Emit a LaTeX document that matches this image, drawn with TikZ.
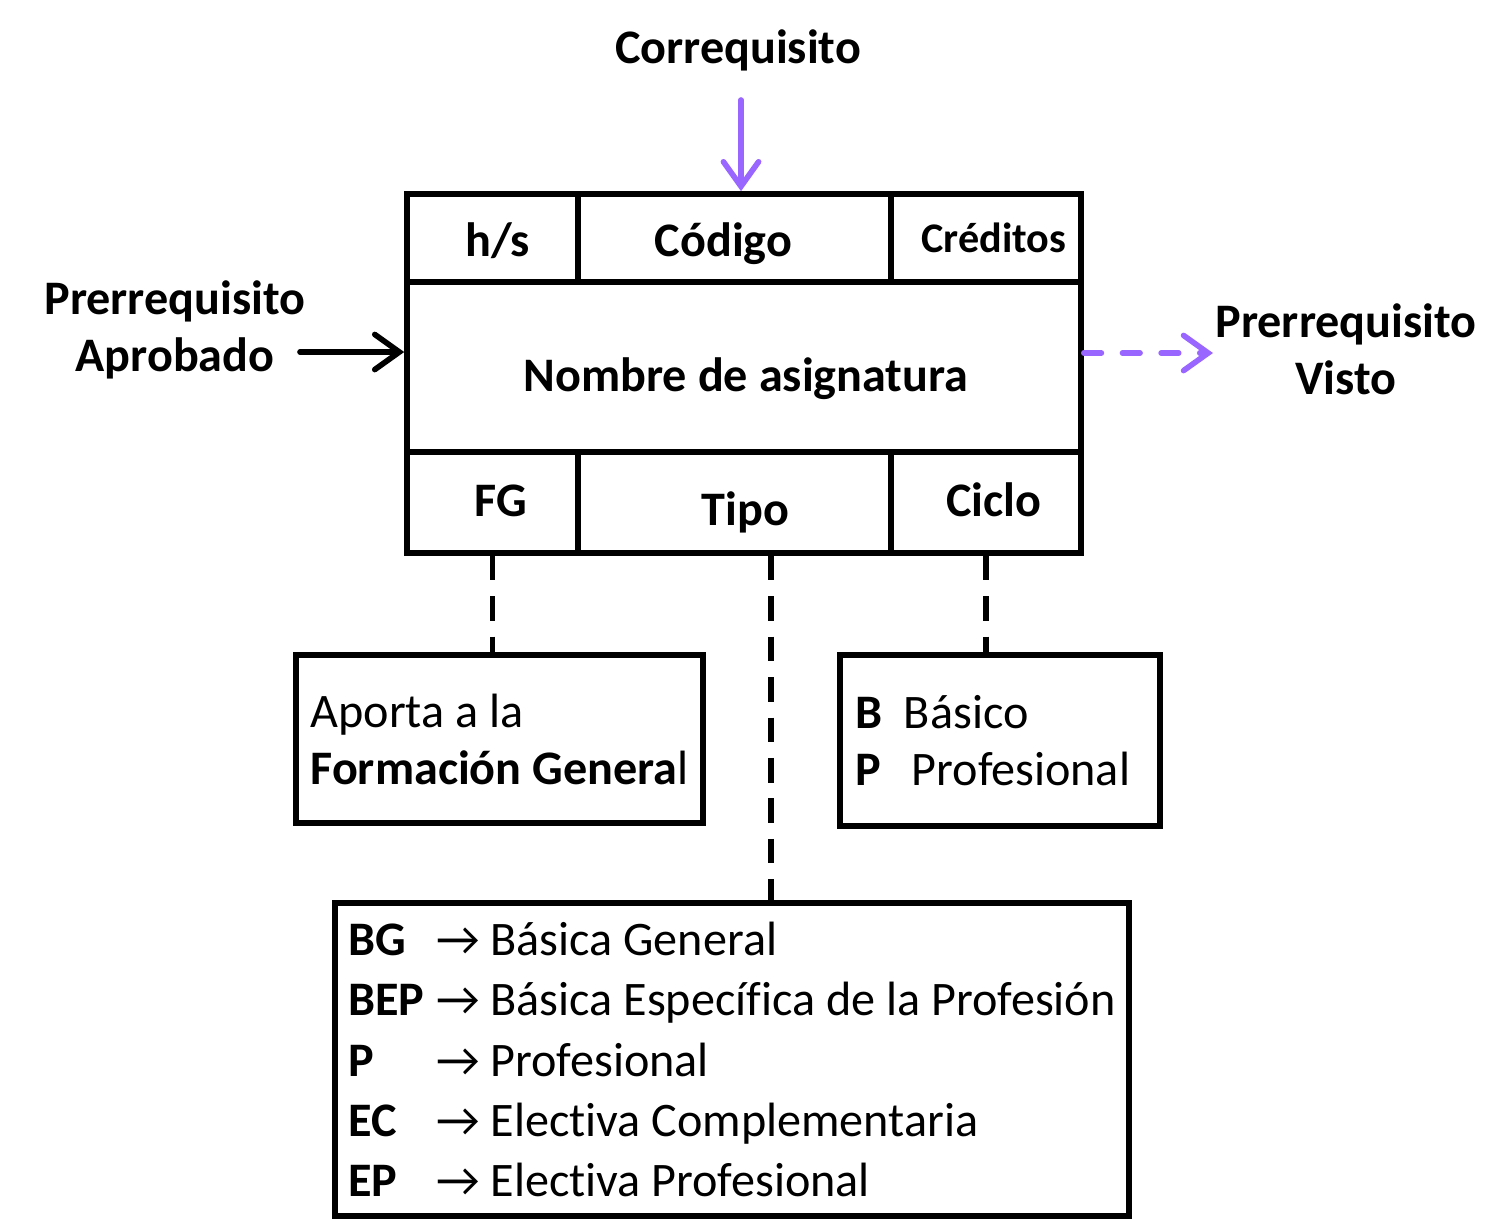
\documentclass[tikz,border=0pt]{standalone}
\usepackage{fontspec}
\setmainfont{Carlito}[RawFeature={-liga,-clig,-calt,-dlig}]
\usetikzlibrary{arrows.meta}
\definecolor{lila}{RGB}{153,102,255}
\newcommand\tipofila[2]{\makebox[25pt][l]{\textbf{#1}}→ #2}

\begin{document}
\begin{tikzpicture}[x=0.1mm,y=-0.1mm,
   celda/.style={draw,line width=1.6pt,inner sep=0pt},
   texto/.style={font=\bfseries\fontsize{13.7}{16}\selectfont},
   caja/.style={draw,line width=1.6pt,inner sep=0pt,align=left,font=\fontsize{13.7}{16.2}\selectfont},
   rotulo/.style={align=center,font=\bfseries\fontsize{13.7}{16.2}\selectfont},
   guia/.style={line width=1.6pt,dash pattern=on 7pt off 4.5pt},
   flecha/.style={line width=1.6pt,line cap=round,-{Straight Barb[length=7pt,width=10pt,line cap=round]}}
]
\useasboundingbox (0,0) rectangle (1494,1222);
% ficha de la asignatura
\node[celda,minimum width=17.1mm,minimum height=8.8mm] (hs) at (492.5,238) {};
\node[celda,minimum width=31.3mm,minimum height=8.8mm] (cod) at (734.5,238) {};
\node[celda,minimum width=19mm,minimum height=8.8mm] (cred) at (986,238) {};
\node[celda,minimum width=67.4mm,minimum height=17mm] (nom) at (744,367) {};
\node[celda,minimum width=17.1mm,minimum height=10.1mm] (fg) at (492.5,502.5) {};
\node[celda,minimum width=31.3mm,minimum height=10.1mm] (tipo) at (734.5,502.5) {};
\node[celda,minimum width=19mm,minimum height=10.1mm] (ciclo) at (986,502.5) {};

\node[texto] (hsT) at (497.5,241) {h/s};
\node[texto] (codT) at (723.5,244) {Código};
\node[texto,font=\bfseries\fontsize{12}{14}\selectfont] (credT) at (994,238) {Créditos};
\node[texto] (nomT) at (746,379) {Nombre de asignatura};
\node[texto] (fgT) at (500.5,500.5) {FG};
\node[texto] (tipoT) at (745.5,512.5) {Tipo};
\node[texto] (cicloT) at (994,499.5) {Ciclo};

% cajas de leyenda
\node[caja,minimum width=40.7mm,minimum height=16.8mm] (fgcaja) at (499.5,739)
  {Aporta a la\\\textbf{Formación Genera}l};
\node[caja,minimum width=32mm,minimum height=17.1mm] (ciclocaja) at (1000,740.5)
  {\textbf{B}\hspace{6pt}Básico\\\textbf{P}\hspace{8.6pt}Profesional\kern4pt};
\node[caja,minimum width=79.4mm,minimum height=31.3mm,font=\fontsize{13.7}{17.1}\selectfont] (tipocaja) at (732,1059.5)
  {\tipofila{BG}{Básica General}\\
   \tipofila{BEP}{Básica Específica de la Profesión}\\
   \tipofila{P}{Profesional}\\
   \tipofila{EC}{Electiva Complementaria}\\
   \tipofila{EP}{Electiva Profesional}};

% rotulos
\node[rotulo] (corr) at (738,50) {Correquisito};
\node[rotulo] (aprob) at (175,330) {Prerrequisito\\Aprobado};
\node[rotulo] (visto) at (1346,349) {Prerrequisito\\Visto};

\coordinate (corrIn) at (741,100);
\coordinate (aprobIn) at (300,352);
\coordinate (vistoOut) at (1213,353);
\draw[flecha,lila] (corrIn) -- (corrIn |- cod.north);
\draw[flecha] (aprobIn) -- (aprobIn -| nom.west);
\draw[flecha,lila,dash pattern=on 5pt off 6pt] (vistoOut -| nom.east) -- (vistoOut);

\draw[guia] (fg.south) -- (fg.south |- fgcaja.north);
\draw[guia] ([xshift=3.65mm]tipo.south) -- ([xshift=3.65mm]tipo.south |- tipocaja.north);
\draw[guia] (ciclo.south) -- (ciclo.south |- ciclocaja.north);
\end{tikzpicture}
\end{document}
